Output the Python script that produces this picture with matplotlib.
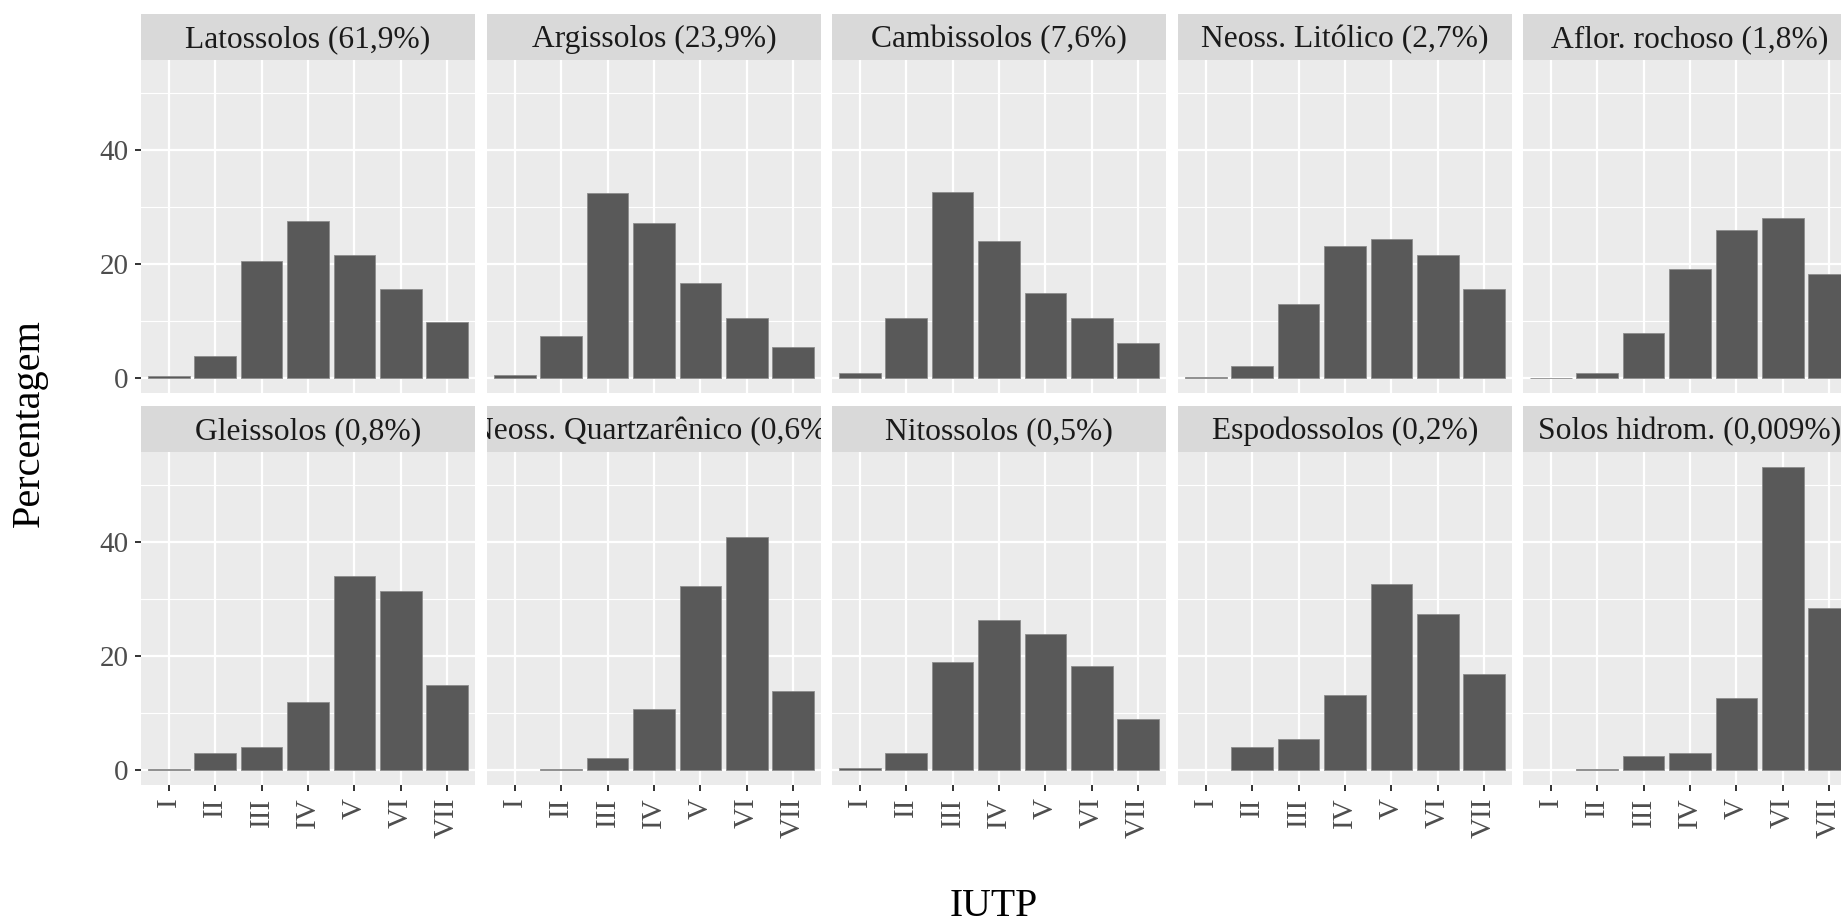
import matplotlib
matplotlib.use("Agg")
import matplotlib.pyplot as plt
from matplotlib.ticker import MultipleLocator

# IUTP classes on the x axis
categories = ["I", "II", "III", "IV", "V", "VI", "VII"]

# Facet titles (soil order and its share of the area)
soil_labels = [
    "Latossolos (61,9%)", "Argissolos (23,9%)", "Cambissolos (7,6%)",
    "Neoss. Litólico (2,7%)", "Aflor. rochoso (1,8%)",
    "Gleissolos (0,8%)", "Neoss. Quartzarênico (0,6%)", "Nitossolos (0,5%)",
    "Espodossolos (0,2%)", "Solos hidrom. (0,009%)",
]

# Percentage of each soil's area in each IUTP class
latossolos = [0.3, 3.9, 20.6, 27.5, 21.6, 15.6, 9.9]
argissolos = [0.5, 7.3, 32.4, 27.2, 16.7, 10.5, 5.4]
cambissolos = [0.9, 10.5, 32.6, 24.1, 14.9, 10.6, 6.2]
neoss_litolico = [0.1, 2.0, 13.0, 23.1, 24.4, 21.6, 15.6]
aflor_rochoso = [0.06, 0.8, 7.9, 19.1, 26.0, 28.1, 18.2]
gleissolos = [0.1, 2.9, 4.0, 12.0, 34.0, 31.5, 15.0]
neoss_quartzarenico = [0.0, 0.2, 2.0, 10.7, 32.3, 40.9, 13.9]
nitossolos = [0.4, 3.0, 19.0, 26.4, 23.8, 18.2, 9.0]
espodossolos = [0.0, 4.1, 5.5, 13.1, 32.7, 27.4, 16.9]
solos_hidrom = [0.0, 0.1, 2.4, 3.0, 12.6, 53.2, 28.4]

series = [latossolos, argissolos, cambissolos, neoss_litolico, aflor_rochoso,
          gleissolos, neoss_quartzarenico, nitossolos, espodossolos, solos_hidrom]

W, H = 1841, 922
fig = plt.figure(figsize=(W / 100, H / 100), dpi=100)
fig.patch.set_facecolor("white")

SERIF = ["Liberation Serif", "DejaVu Serif"]
PANEL_BG = "#EBEBEB"
STRIP_BG = "#D9D9D9"
BAR = "#595959"

col_left = [141, 487, 832, 1178, 1523]
panel_w = 334
row_top = [60, 452]
panel_h = 333
strip_h = 46

ymax = max(max(s) for s in series)
pad = 0.05 * ymax
ylim = (-pad, ymax + pad)

x = list(range(1, len(categories) + 1))

for i, (vals, label) in enumerate(zip(series, soil_labels)):
    r, c = divmod(i, 5)
    left = col_left[c] / W
    bottom = 1 - (row_top[r] + panel_h) / H
    ax = fig.add_axes([left, bottom, panel_w / W, panel_h / H])
    ax.set_facecolor(PANEL_BG)
    edge_w = [0.6 if v > 0 else 0.0 for v in vals]
    ax.bar(x, vals, width=0.9, color=BAR, edgecolor="#8C8C8C",
           linewidth=edge_w, zorder=3)
    ax.set_xlim(0.4, len(categories) + 0.6)
    ax.set_ylim(*ylim)
    ax.set_xticks(x)
    ax.yaxis.set_major_locator(MultipleLocator(20))
    ax.yaxis.set_minor_locator(MultipleLocator(10))
    ax.grid(which="major", color="white", linewidth=1.6, zorder=1)
    ax.grid(which="minor", axis="y", color="white", linewidth=0.8, zorder=1)
    for sp in ax.spines.values():
        sp.set_visible(False)
    ax.tick_params(which="minor", length=0)
    ax.tick_params(which="major", color="#333333", width=1.4, length=4.5,
                   pad=4.5)
    if r == 1:
        ax.set_xticklabels(categories, rotation=90, va="top", ha="center",
                           family=SERIF, fontsize=21, color="#4D4D4D")
    else:
        ax.tick_params(axis="x", length=0, labelbottom=False)
    if c == 0:
        ax.set_yticks([0, 20, 40])
        ax.set_yticklabels(["0", "20", "40"], family=SERIF, fontsize=21,
                           color="#4D4D4D")
    else:
        ax.tick_params(axis="y", length=0, labelleft=False)

    # facet strip
    sax = fig.add_axes([left, 1 - row_top[r] / H, panel_w / W, strip_h / H])
    sax.set_facecolor(STRIP_BG)
    sax.set_xticks([])
    sax.set_yticks([])
    for sp in sax.spines.values():
        sp.set_visible(False)
    sax.text(0.5, 0.45, label, ha="center", va="center", family=SERIF,
             fontsize=22.7, color="#1A1A1A", transform=sax.transAxes,
             clip_on=True)

fig.text(994 / W, 1 - 906 / H, "IUTP", ha="center", va="center",
         family=SERIF, fontsize=28.5, color="black")
fig.text(29 / W, 1 - 423 / H, "Percentagem", ha="center", va="center",
         rotation=90, family=SERIF, fontsize=29, color="black")

fig.savefig("out.png", dpi=100, facecolor="white")
